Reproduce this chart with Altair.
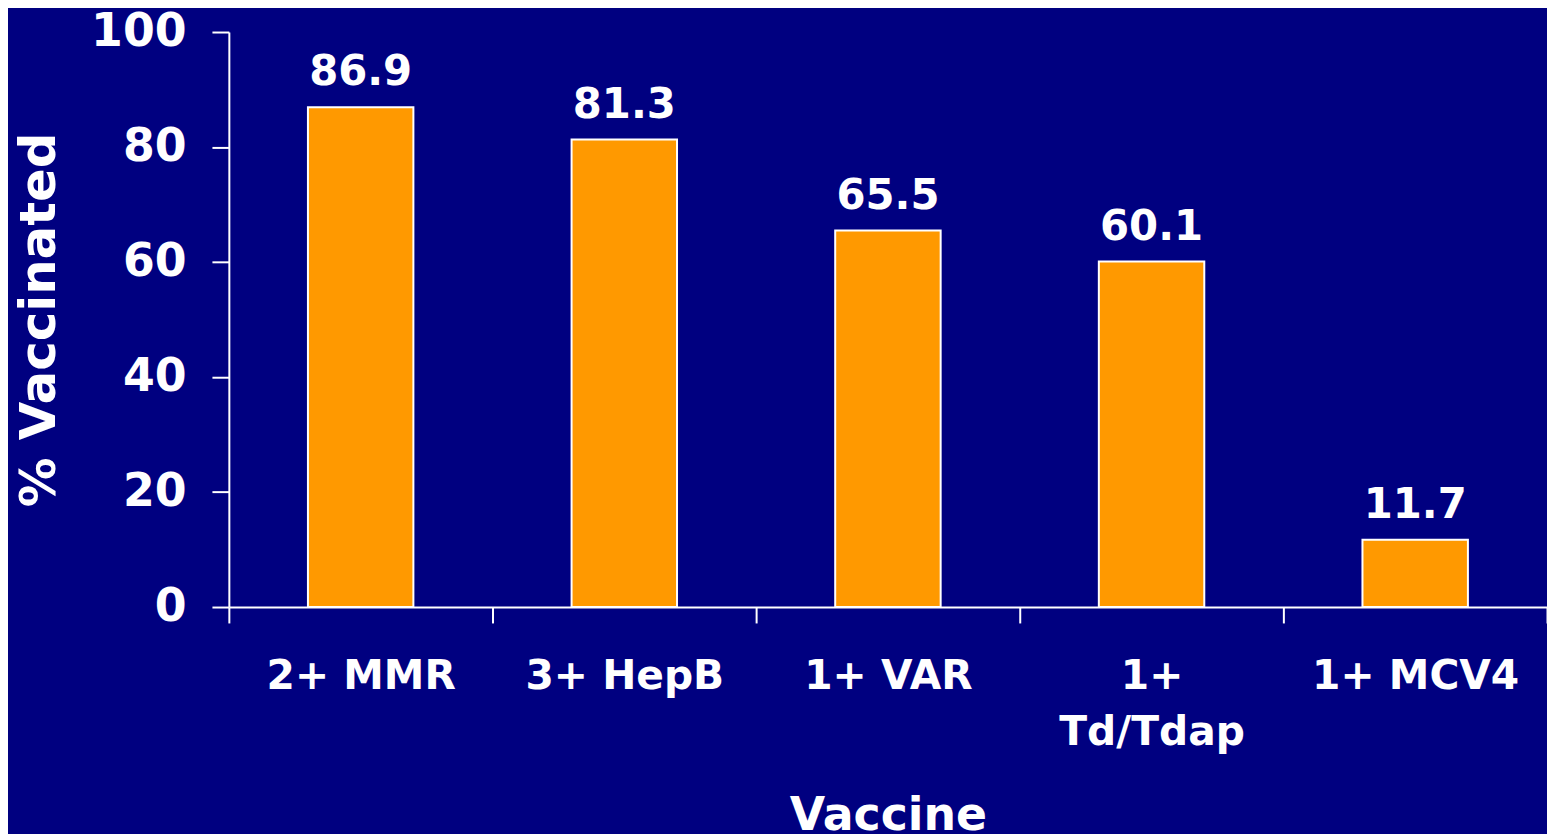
import altair as alt
import pandas as pd

vaccines = ["2+ MMR", "3+ HepB", "1+ VAR", "1+|Td/Tdap", "1+ MCV4"]
percent = [86.9, 81.3, 65.5, 60.1, 11.7]

df = pd.DataFrame({"vaccine": vaccines, "pct": percent})
df["lbl"] = df["pct"].map(lambda v: f"{v:.1f}")

FONT = "DejaVu Sans"

x = alt.X(
    "vaccine:N",
    sort=vaccines,
    scale=alt.Scale(paddingInner=0, paddingOuter=0),
    axis=alt.Axis(
        title="Vaccine",
        labelAngle=0,
        labelExpr="split(datum.label, '|')",
        labelLineHeight=56,
        labelFontSize=41,
        labelFont=FONT,
        labelFontWeight="bold",
        labelColor="white",
        labelPadding=34,
        labelBaseline="top",
        labelLimit=0,
        tickBand="extent",
        tickSize=16,
        tickWidth=2,
        tickColor="white",
        domainColor="white",
        domainWidth=2,
        titleFontSize=46,
        titleFont=FONT,
        titleFontWeight="bold",
        titleColor="white",
        titlePadding=42,
    ),
)

y = alt.Y(
    "pct:Q",
    scale=alt.Scale(domain=[0, 100], nice=False),
    axis=alt.Axis(
        title="% Vaccinated",
        values=[0, 20, 40, 60, 80, 100],
        grid=False,
        labelFontSize=46,
        labelFont=FONT,
        labelFontWeight="bold",
        labelColor="white",
        labelPadding=26,
        tickSize=17,
        tickWidth=2,
        tickColor="white",
        domainColor="white",
        domainWidth=2,
        titleFontSize=50,
        titleFont=FONT,
        titleFontWeight="bold",
        titleColor="white",
        titlePadding=26,
    ),
)

bars = alt.Chart(df).mark_bar(
    color="#FF9900", stroke="white", strokeWidth=2, width=alt.RelativeBandSize(0.4)
).encode(x=x, y=y)

labels = alt.Chart(df).mark_text(
    color="white", font=FONT, fontWeight="bold", fontSize=42, baseline="alphabetic", dy=-22
).encode(x=alt.X("vaccine:N", sort=vaccines), y="pct:Q", text="lbl:N")

chart = (
    (bars + labels)
    .properties(
        width=1325,
        height=578,
        background="#000080",
        padding={"left": 222, "top": 22, "right": 0, "bottom": 226},
        autosize=alt.AutoSizeParams(type="none"),
    )
    .configure_view(stroke=None)
)

chart.save("out.html", embed_options={"renderer": "svg", "actions": False})
